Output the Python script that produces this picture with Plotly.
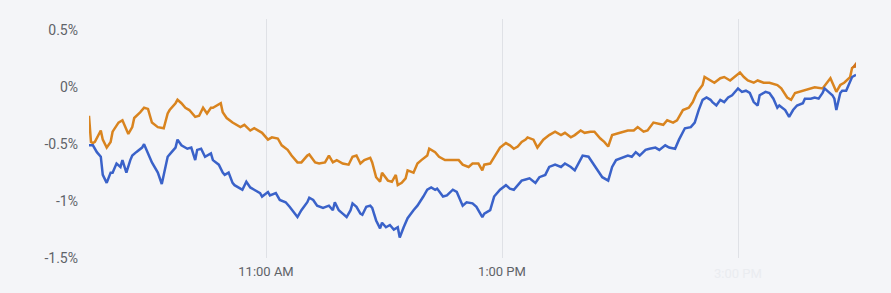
import plotly.graph_objects as go

DAY = "2024-01-02 "

orange_times = ["09:30","09:31","09:32","09:33","09:36","09:37","09:39","09:41","09:42","09:45","09:47","09:48","09:50","09:52","09:53","09:56","09:58","10:00","10:02","10:05","10:08","10:10","10:11","10:14","10:15","10:17","10:19","10:21","10:24","10:26","10:28","10:30","10:32","10:33","10:35","10:37","10:38","10:40","10:43","10:44","10:47","10:49","10:52","10:54","10:58","11:01","11:03","11:06","11:08","11:11","11:13","11:16","11:18","11:21","11:22","11:25","11:27","11:30","11:32","11:34","11:36","11:39","11:42","11:44","11:46","11:48","11:50","11:53","11:54","11:56","11:58","11:59","12:02","12:04","12:06","12:07","12:09","12:11","12:12","12:15","12:17","12:19","12:22","12:23","12:26","12:28","12:31","12:35","12:38","12:40","12:43","12:45","12:48","12:50","12:51","12:54","12:56","12:59","13:02","13:04","13:06","13:08","13:10","13:12","13:13","13:16","13:18","13:21","13:24","13:27","13:30","13:32","13:35","13:37","13:40","13:42","13:45","13:47","13:50","13:52","13:54","13:56","14:00","14:04","14:07","14:09","14:12","14:14","14:17","14:19","14:22","14:24","14:27","14:29","14:32","14:35","14:37","14:39","14:42","14:43","14:46","14:48","14:51","14:53","14:56","14:58","15:01","15:03","15:05","15:08","15:10","15:13","15:16","15:20","15:22","15:25","15:27","15:29","15:33","15:36","15:39","15:43","15:45","15:47","15:48","15:50","15:52","15:54","15:57","15:58","16:00"]
orange_values = [-0.25,-0.48,-0.49,-0.48,-0.38,-0.46,-0.53,-0.48,-0.39,-0.31,-0.29,-0.33,-0.41,-0.35,-0.27,-0.22,-0.18,-0.19,-0.31,-0.35,-0.36,-0.23,-0.20,-0.14,-0.11,-0.14,-0.18,-0.20,-0.26,-0.25,-0.18,-0.23,-0.18,-0.18,-0.16,-0.14,-0.22,-0.27,-0.31,-0.32,-0.35,-0.33,-0.38,-0.36,-0.40,-0.46,-0.44,-0.45,-0.51,-0.55,-0.60,-0.66,-0.66,-0.60,-0.59,-0.66,-0.67,-0.66,-0.60,-0.66,-0.64,-0.67,-0.68,-0.61,-0.60,-0.67,-0.64,-0.62,-0.66,-0.79,-0.83,-0.75,-0.82,-0.83,-0.77,-0.86,-0.84,-0.80,-0.73,-0.75,-0.67,-0.64,-0.60,-0.54,-0.57,-0.61,-0.64,-0.64,-0.64,-0.68,-0.70,-0.67,-0.67,-0.73,-0.68,-0.67,-0.61,-0.53,-0.49,-0.51,-0.54,-0.52,-0.48,-0.46,-0.44,-0.46,-0.53,-0.46,-0.42,-0.39,-0.42,-0.40,-0.44,-0.42,-0.38,-0.40,-0.39,-0.39,-0.45,-0.48,-0.52,-0.42,-0.40,-0.38,-0.38,-0.35,-0.39,-0.38,-0.31,-0.32,-0.33,-0.29,-0.31,-0.29,-0.20,-0.18,-0.13,-0.05,0.02,0.09,0.06,0.04,0.08,0.09,0.06,0.09,0.13,0.09,0.06,0.04,0.06,0.04,0.04,0.02,-0.01,-0.09,-0.11,-0.05,-0.03,-0.01,0.00,-0.01,0.04,0.08,0.04,-0.04,0.02,0.04,0.09,0.17,0.19]

blue_times = ["09:30","09:32","09:34","09:36","09:37","09:39","09:41","09:42","09:44","09:46","09:47","09:49","09:51","09:52","09:54","09:57","09:58","10:00","10:02","10:05","10:07","10:08","10:10","10:12","10:14","10:15","10:17","10:20","10:22","10:24","10:25","10:27","10:29","10:32","10:33","10:36","10:38","10:39","10:41","10:43","10:44","10:47","10:48","10:50","10:52","10:54","10:57","10:58","11:01","11:02","11:05","11:07","11:10","11:12","11:15","11:16","11:18","11:21","11:22","11:24","11:26","11:29","11:32","11:34","11:35","11:37","11:39","11:41","11:43","11:44","11:46","11:48","11:49","11:51","11:53","11:54","11:56","11:58","11:59","12:01","12:03","12:05","12:07","12:08","12:10","12:12","12:15","12:17","12:20","12:22","12:24","12:26","12:27","12:30","12:32","12:35","12:37","12:39","12:40","12:42","12:45","12:47","12:50","12:51","12:54","12:56","12:59","13:02","13:04","13:06","13:08","13:10","13:12","13:14","13:17","13:19","13:22","13:24","13:27","13:30","13:32","13:35","13:37","13:40","13:41","13:44","13:46","13:49","13:51","13:54","13:56","13:58","14:01","14:04","14:06","14:08","14:10","14:13","14:15","14:18","14:20","14:23","14:25","14:28","14:30","14:32","14:33","14:36","14:38","14:40","14:42","14:44","14:46","14:47","14:49","14:51","14:53","14:55","14:57","14:58","15:00","15:02","15:04","15:06","15:08","15:10","15:11","15:14","15:16","15:18","15:20","15:21","15:24","15:26","15:28","15:30","15:33","15:34","15:37","15:39","15:41","15:43","15:44","15:46","15:48","15:49","15:50","15:52","15:53","15:55","15:57","15:58","16:00"]
blue_values = [-0.51,-0.51,-0.57,-0.61,-0.77,-0.84,-0.75,-0.75,-0.67,-0.70,-0.64,-0.75,-0.64,-0.60,-0.57,-0.53,-0.50,-0.58,-0.66,-0.75,-0.85,-0.77,-0.61,-0.57,-0.53,-0.46,-0.51,-0.54,-0.53,-0.64,-0.55,-0.54,-0.61,-0.58,-0.64,-0.68,-0.75,-0.77,-0.75,-0.84,-0.86,-0.89,-0.90,-0.83,-0.88,-0.90,-0.93,-0.96,-0.92,-0.95,-0.93,-0.99,-1.01,-1.05,-1.11,-1.14,-1.08,-1.01,-0.97,-0.99,-1.04,-1.06,-1.04,-1.08,-1.01,-1.08,-1.11,-1.14,-1.08,-1.02,-1.05,-1.11,-1.12,-1.05,-1.04,-1.06,-1.17,-1.24,-1.19,-1.23,-1.21,-1.25,-1.23,-1.32,-1.23,-1.15,-1.08,-1.04,-0.96,-0.90,-0.88,-0.90,-0.89,-0.96,-0.95,-0.90,-0.92,-0.99,-1.04,-1.01,-1.02,-1.05,-1.14,-1.11,-1.08,-0.96,-0.90,-0.86,-0.89,-0.90,-0.86,-0.82,-0.81,-0.80,-0.84,-0.79,-0.77,-0.70,-0.68,-0.70,-0.67,-0.70,-0.73,-0.64,-0.60,-0.61,-0.66,-0.73,-0.79,-0.82,-0.70,-0.64,-0.62,-0.60,-0.61,-0.57,-0.60,-0.55,-0.54,-0.53,-0.55,-0.51,-0.53,-0.54,-0.46,-0.39,-0.36,-0.35,-0.31,-0.20,-0.11,-0.09,-0.11,-0.13,-0.16,-0.11,-0.13,-0.09,-0.07,-0.05,-0.01,-0.04,-0.03,-0.05,-0.13,-0.16,-0.07,-0.04,-0.05,-0.10,-0.18,-0.16,-0.20,-0.26,-0.20,-0.16,-0.14,-0.10,-0.10,-0.09,-0.10,-0.05,-0.01,-0.04,-0.07,-0.10,-0.20,-0.05,-0.03,-0.03,0.04,0.09,0.11]

x_tick_times = ["11:00", "13:00", "15:00"]
x_tick_labels = ["11:00 AM", "1:00 PM", ""]
faint_label = "3:00 PM"
y_tick_vals = [0.5, 0, -0.5, -1, -1.5]
y_tick_labels = ["0.5%", "0%", "-0.5%", "-1%", "-1.5%"]

BG = "#f4f5f8"
ORANGE = "#d9841f"
BLUE = "#3a62c9"

fig = go.Figure()
fig.add_trace(go.Scatter(x=[DAY + t for t in orange_times], y=orange_values, mode="lines",
                         line=dict(color=ORANGE, width=2.5), showlegend=False))
fig.add_trace(go.Scatter(x=[DAY + t for t in blue_times], y=blue_values, mode="lines",
                         line=dict(color=BLUE, width=2.5), showlegend=False))
fig.add_trace(go.Scatter(x=[DAY + orange_times[-1]], y=[orange_values[-1]], mode="markers",
                         marker=dict(color="#d0731c", size=8, symbol="triangle-up"),
                         showlegend=False))

fig.add_annotation(x=DAY + x_tick_times[2], y=0, xref="x", yref="paper", yanchor="top",
                   yshift=-6, text=faint_label, showarrow=False,
                   font=dict(family="Roboto", size=13, color="#eaecf0"))

fig.update_layout(
    width=891, height=293,
    margin=dict(l=89, r=35, t=19, b=35),
    paper_bgcolor=BG, plot_bgcolor=BG,
    font=dict(family="Roboto", size=13, color="#5f6368"),
    xaxis=dict(type="date", range=[DAY + "09:30", DAY + "16:00"],
               tickvals=[DAY + t for t in x_tick_times], ticktext=x_tick_labels,
               showgrid=True, gridcolor="#dfe1e6", gridwidth=1,
               zeroline=False, showline=False, ticks="", ticklabelstandoff=4),
    yaxis=dict(range=[-1.5, 0.6], tickvals=y_tick_vals, ticktext=y_tick_labels,
               tickfont=dict(size=14),
               showgrid=False, zeroline=False, showline=False, ticks="",
               ticklabelstandoff=10),
)

fig.write_html("out.html")
